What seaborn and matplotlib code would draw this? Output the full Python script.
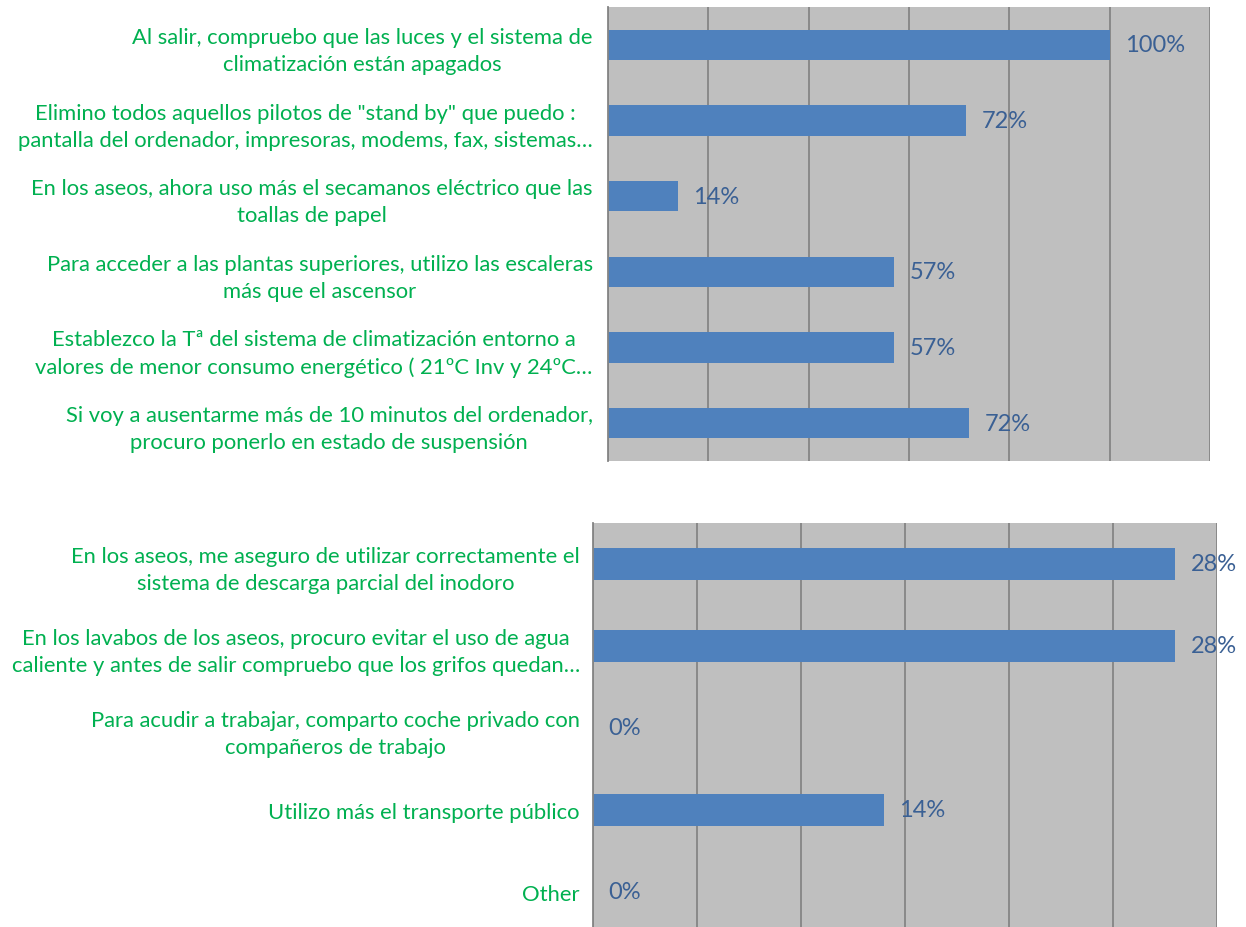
import matplotlib
matplotlib.use("Agg")
import matplotlib.pyplot as plt
import seaborn as sns
import pandas as pd

# ---- data ----
top_labels = [
    "Al salir, compruebo que las luces y el sistema de\nclimatización están apagados",
    "Elimino todos aquellos pilotos de \"stand by\" que puedo :\npantalla del ordenador, impresoras, modems, fax, sistemas…",
    "En los aseos, ahora uso más el secamanos eléctrico que las\ntoallas de papel",
    "Para acceder a las plantas superiores, utilizo las escaleras\nmás que el ascensor",
    "Establezco la Tª del sistema de climatización entorno a\nvalores de menor consumo energético ( 21ºC Inv y 24ºC…",
    "Si voy a ausentarme más de 10 minutos del ordenador,\nprocuro ponerlo en estado de suspensión",
]
top_values = [100, 71.4, 14, 57, 57, 72]
top_text = ["100%", "72%", "14%", "57%", "57%", "72%"]

bottom_labels = [
    "En los aseos, me aseguro de utilizar correctamente el\nsistema de descarga parcial del inodoro",
    "En los lavabos de los aseos, procuro evitar el uso de agua\ncaliente y antes de salir compruebo que los grifos quedan…",
    "Para acudir a trabajar, comparto coche privado con\ncompañeros de trabajo",
    "Utilizo más el transporte público",
    "Other",
]
bottom_values = [28, 28, 0, 14, 0]
bottom_text = ["28%", "28%", "0%", "14%", "0%"]

# ---- style ----
sns.set_theme(style="white")
plt.rcParams["font.family"] = ["Lato", "DejaVu Sans"]

W, H = 1246, 928
fig = plt.figure(figsize=(W / 100, H / 100), dpi=100)

BAR = "#4F81BD"
BG = "#BFBFBF"
GRID = "#858585"
LBL = "#00B050"
VAL = "#3A6094"
FS = 15.8
VFS = 17.0


def panel(rect_px, labels, values, texts, xmax, step, pad):
    l, r, t, b = rect_px
    ax = fig.add_axes([l / W, 1 - b / H, (r - l) / W, (b - t) / H])
    df = pd.DataFrame({"label": labels, "value": values})
    sns.barplot(data=df, x="value", y="label", orient="h", color=BAR,
                width=0.4, ax=ax, saturation=1, linewidth=0)
    ax.set_facecolor(BG)
    ax.set_xlim(0, xmax)
    ax.set_ylim(len(labels) - 0.5, -0.5)
    ticks = [i * step for i in range(int(round(xmax / step)) + 1)]
    ax.set_xticks(ticks)
    ax.xaxis.grid(True, color=GRID, linewidth=1.3)
    ax.set_axisbelow(True)
    ax.tick_params(axis="x", bottom=False, labelbottom=False)
    ax.tick_params(axis="y", left=False, length=0, pad=pad, labelsize=FS,
                   labelcolor=LBL)
    for lab in ax.get_yticklabels():
        lab.set_multialignment("center")
        lab.set_linespacing(1.45)
    ax.set_xlabel("")
    ax.set_ylabel("")
    for s in ax.spines.values():
        s.set_visible(False)
    ax.spines["left"].set_visible(True)
    ax.spines["left"].set_color(GRID)
    ax.spines["left"].set_linewidth(1.3)
    for i, (v, t_) in enumerate(zip(values, texts)):
        ax.annotate(t_, xy=(v, i), xytext=(11, 0), textcoords="offset points",
                    ha="left", va="center", color=VAL, fontsize=VFS,
                    annotation_clip=False)
    return ax


panel((608, 1210, 8, 462), top_labels, top_values, top_text, 120, 20, 11)
panel((593, 1217, 524, 934), bottom_labels, bottom_values, bottom_text, 30, 5, 9.5)

fig.savefig("out.png", dpi=100, facecolor="white")
